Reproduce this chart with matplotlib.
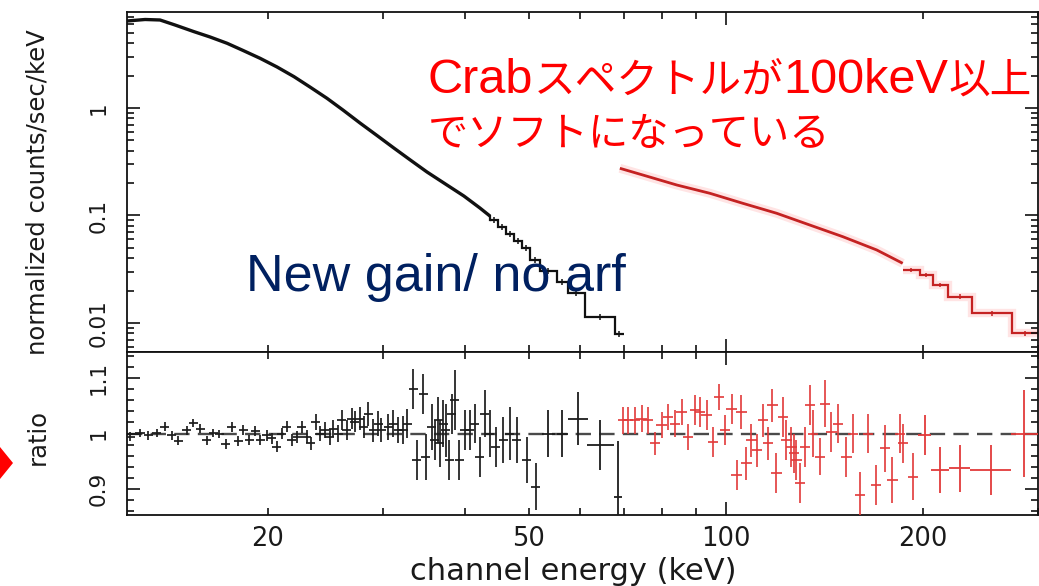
import numpy as np
import matplotlib
matplotlib.use("Agg")
import matplotlib.pyplot as plt
from matplotlib.ticker import (FixedLocator, FuncFormatter, MultipleLocator,
                               NullFormatter, LogLocator)
from matplotlib.patches import Polygon

# ---------------- spectrum (normalized counts/sec/keV) ----------------
# PIN: fine bins, drawn as a continuous curve
pin_curve_E = [12.18, 12.98, 13.68, 14.42, 15.42, 16.31, 17.32, 18.32, 19.45,
               20.64, 21.92, 23.18, 24.61, 26.03, 27.64, 29.34, 31.14, 32.95,
               34.98, 37.53, 39.83, 42.14, 43.65]
pin_curve_F = [6.45, 6.66, 6.59, 5.92, 5.13, 4.58, 4.00, 3.43, 2.90,
               2.41, 1.955, 1.568, 1.231, 0.958, 0.725, 0.555, 0.424, 0.330,
               0.2540, 0.1921, 0.1518, 0.1174, 0.0989]
# PIN: coarse bins at the high-energy end
pin_step_edges = [43.65, 44.89, 46.17, 47.49, 48.85, 50.24, 52.04, 55.24,
                  57.42, 60.95, 67.73, 69.91]
pin_step_F = [0.0908, 0.0781, 0.0673, 0.0579, 0.0498, 0.0386, 0.0305,
              0.02406, 0.0190, 0.01137, 0.0079]

# GSO
gso_curve_E = [68.94, 74.74, 84.23, 94.6, 106.2, 119.7, 134.4, 151.0, 170.1, 186.4]
gso_curve_F = [0.2749, 0.2380, 0.1921, 0.1609, 0.1299, 0.1048, 0.0816,
               0.0635, 0.0478, 0.0359]
gso_step_edges = [186.4, 197.9, 207.2, 218.4, 237.6, 273.5, 300.0]
gso_step_F = [0.0311, 0.0280, 0.02257, 0.01757, 0.01231, 0.00802]

# ---------------- data / model ratio ----------------
pin_ratio_E = [12.31, 12.75, 13.13, 13.52, 13.92, 14.26, 14.59, 15.03, 15.38,
               15.75, 16.12, 16.50, 16.85, 17.24, 17.60, 18.02, 18.34, 18.73,
               19.11, 19.45, 19.91, 20.26, 20.62, 20.99, 21.36, 21.74, 22.17,
               22.52, 22.91, 23.24, 23.65, 24.01, 24.43, 24.87, 25.16, 25.60,
               25.91, 26.37, 26.83, 27.15, 27.63, 28.02, 28.44, 28.95, 29.46,
               29.81, 30.52, 31.06, 31.61, 32.17, 32.62,
               33.33, 33.73, 34.52, 34.85, 35.56, 35.98, 36.40, 36.61, 37.04,
               37.39, 37.83, 38.15, 38.60, 39.18, 39.97, 40.68, 41.41, 42.14,
               42.89, 43.65, 44.58, 45.74, 46.83, 47.94, 49.66, 51.31]
pin_ratio = [0.994, 1.001, 0.997, 1.001, 1.012, 0.997, 0.987, 1.006, 1.019,
             1.009, 0.988, 1.001, 0.999, 0.981, 1.011, 0.987, 1.006, 0.988,
             1.005, 0.988, 0.997, 0.991, 0.976, 1.000, 1.012, 0.988, 0.994,
             1.012, 0.994, 0.982, 1.021, 1.000, 1.006, 0.994, 1.009, 1.000,
             1.024, 1.006, 1.027, 1.021, 1.027, 1.012, 1.035, 1.006, 1.018,
             1.006, 1.012, 1.018, 1.006, 1.006, 1.018,
             1.081, 0.952, 1.072, 0.958, 1.012, 0.988, 1.024, 0.982, 1.018,
             1.006, 0.952, 1.036, 1.060, 0.952, 1.006, 1.006, 1.018, 0.958,
             1.036, 1.000, 0.976, 0.988, 1.000, 0.988, 0.952, 0.904]
pin_ratio_err = [0.008, 0.008, 0.008, 0.008, 0.008, 0.008, 0.008, 0.008, 0.008,
                 0.008, 0.008, 0.008, 0.008, 0.009, 0.009, 0.009, 0.009, 0.009,
                 0.009, 0.009, 0.010, 0.010, 0.010, 0.010, 0.010, 0.011, 0.011,
                 0.011, 0.012, 0.012, 0.014, 0.014, 0.015, 0.015, 0.016, 0.016,
                 0.018, 0.018, 0.019, 0.019, 0.020, 0.020, 0.021, 0.021, 0.022,
                 0.022, 0.023, 0.024, 0.024, 0.025, 0.026,
                 0.036, 0.036, 0.036, 0.042, 0.042, 0.036, 0.042, 0.042, 0.042,
                 0.048, 0.036, 0.036, 0.054, 0.036, 0.036, 0.036, 0.036, 0.036,
                 0.042, 0.042, 0.036, 0.042, 0.048, 0.042, 0.042, 0.042]
pin_wide_lo = [52.34, 55.19, 57.49, 61.34, 67.47]
pin_wide_hi = [54.86, 57.49, 61.69, 67.47, 69.40]
pin_wide_ratio = [1.000, 1.000, 1.027, 0.979, 0.886]
pin_wide_err = [0.042, 0.042, 0.048, 0.045, 0.100]

gso_ratio_E = [69.74, 70.98, 72.67, 74.40, 76.15, 77.96, 79.82, 81.69, 83.64,
               85.63, 87.64, 89.73, 91.32, 93.50, 95.69, 97.73, 99.71, 102.09,
               103.90, 105.74, 107.61, 109.52, 111.70, 114.09, 116.11, 117.91,
               119.59, 122.39, 123.86, 126.06, 127.08, 128.29, 129.79, 132.10,
               134.43, 136.01, 139.24, 141.72, 145.09, 148.49, 152.95, 156.54,
               160.26, 165.01, 169.95, 174.99, 179.80, 184.46, 186.61, 193.30]
gso_ratio = [1.024, 1.024, 1.024, 1.027, 1.024, 0.982, 1.015, 1.030, 1.018,
             1.039, 0.994, 1.042, 1.039, 1.033, 0.985, 1.066, 1.006, 1.045,
             0.925, 1.039, 0.946, 0.988, 0.970, 1.024, 0.982, 1.051,
             0.928, 1.030, 0.988, 0.976, 0.964, 0.952, 0.910, 0.976,
             1.051, 1.000, 0.958, 1.054, 1.003, 1.018, 0.958, 1.000,
             0.889, 1.000, 0.907, 0.973, 0.916, 1.000, 0.982, 0.922]
gso_ratio_err = [0.024, 0.024, 0.024, 0.024, 0.024, 0.021, 0.024, 0.024, 0.024,
                 0.024, 0.024, 0.027, 0.027, 0.027, 0.027, 0.024, 0.027, 0.027,
                 0.027, 0.030, 0.030, 0.030, 0.030, 0.030, 0.030, 0.030,
                 0.036, 0.036, 0.036, 0.036, 0.036, 0.036, 0.036, 0.036,
                 0.036, 0.042, 0.033, 0.042, 0.036, 0.036, 0.036, 0.036,
                 0.042, 0.036, 0.036, 0.042, 0.042, 0.036, 0.036, 0.042]
gso_wide_lo = [196.6, 206.2, 219.2, 236.4, 272.6]
gso_wide_hi = [206.2, 219.2, 236.4, 272.6, 300.0]
gso_wide_ratio = [0.997, 0.934, 0.937, 0.934, 1.000]
gso_wide_err = [0.036, 0.042, 0.042, 0.045, 0.078]

# ---------------- axis ticks and labels ----------------
x_major = [100]
x_minor = [20, 30, 40, 50, 60, 70, 80, 90, 200, 300]
x_labels = {20: "20", 50: "50", 100: "100", 200: "200"}

title_red_1 = [("Crab", "latin"), ("スペクトルが", "cjk"), ("100keV", "latin"), ("以上", "cjk")]
title_red_2 = "でソフトになっている"
note_blue = "New gain/ no arf"

# ---------------- figure ----------------
W, H = 1039, 586
fig = plt.figure(figsize=(W / 100, H / 100), dpi=100)
fig.patch.set_facecolor("white")


def fx(px):
    return px / W


def fy(py):
    return 1 - py / H


L, R = 127, 1038
ax1 = fig.add_axes([fx(L), fy(352), (R - L) / W, 340 / H])
ax2 = fig.add_axes([fx(L), fy(515), (R - L) / W, 163 / H], sharex=ax1)

BLACK = "#111111"
RED_LINE = "#c42222"
RED_PTS = "#e23a3a"

# --- top panel: spectrum ---
ax1.set_xscale("log")
ax1.set_yscale("log")
ax1.plot(pin_curve_E, pin_curve_F, color=BLACK, lw=2.4, solid_capstyle="butt",
         solid_joinstyle="round")
ax1.plot([pin_curve_E[-1], pin_step_edges[0]], [pin_curve_F[-1], pin_step_F[0]],
         color=BLACK, lw=1.6)
ax1.stairs(pin_step_F, pin_step_edges, baseline=None, color=BLACK, lw=1.6)
pe = np.array(pin_step_edges)
pc = np.sqrt(pe[:-1] * pe[1:])
pf = np.array(pin_step_F)
ax1.errorbar(pc, pf, yerr=0.06 * pf, fmt="none", ecolor=BLACK, elinewidth=1.1)

# soft red glow beneath the GSO curve
ax1.plot(gso_curve_E, gso_curve_F, color="#ff6a6a", lw=6.5, alpha=0.18,
         solid_capstyle="butt")
ax1.stairs(gso_step_F, gso_step_edges, baseline=None, color="#ff6a6a",
           lw=6.0, alpha=0.18)
ax1.plot(gso_curve_E, gso_curve_F, color=RED_LINE, lw=2.0, solid_capstyle="butt",
         solid_joinstyle="round")
ax1.stairs(gso_step_F, gso_step_edges, baseline=None, color=RED_LINE, lw=1.6)
ge = np.array(gso_step_edges)
gc = np.sqrt(ge[:-1] * ge[1:])
gf = np.array(gso_step_F)
ax1.errorbar(gc, gf, yerr=0.05 * gf, fmt="none", ecolor=RED_LINE, elinewidth=1.1)

ax1.set_xlim(12.18, 300)
ax1.set_ylim(0.00537, 7.82)
ax1.yaxis.set_major_locator(LogLocator(base=10))
ax1.yaxis.set_minor_locator(LogLocator(base=10, subs=np.arange(2, 10)))
ax1.yaxis.set_major_formatter(FuncFormatter(lambda v, p: f"{v:g}"))
ax1.yaxis.set_minor_formatter(NullFormatter())

# --- bottom panel: ratio ---
ax2.axhline(1.0, color="#4a4a4a", lw=1.7, ls=(0, (6.5, 3.5)), zorder=1)

E = np.array(pin_ratio_E)
ax2.errorbar(E, pin_ratio, yerr=pin_ratio_err, xerr=[E - E / 1.016, E * 1.016 - E],
             fmt="none", ecolor="#1c1c1c", elinewidth=1.25, zorder=3)
lo, hi = np.array(pin_wide_lo), np.array(pin_wide_hi)
mid = np.sqrt(lo * hi)
ax2.errorbar(mid, pin_wide_ratio, yerr=pin_wide_err, xerr=[mid - lo, hi - mid],
             fmt="none", ecolor="#1c1c1c", elinewidth=1.3, zorder=3)

E = np.array(gso_ratio_E)
ax2.errorbar(E, gso_ratio, yerr=gso_ratio_err, xerr=[E - E / 1.018, E * 1.018 - E],
             fmt="none", ecolor=RED_PTS, elinewidth=1.2, zorder=3)
lo, hi = np.array(gso_wide_lo), np.array(gso_wide_hi)
mid = np.sqrt(lo * hi)
ax2.errorbar(mid, gso_wide_ratio, yerr=gso_wide_err, xerr=[mid - lo, hi - mid],
             fmt="none", ecolor=RED_PTS, elinewidth=1.3, zorder=3)

ax2.set_ylim(0.853, 1.147)
ax2.yaxis.set_major_locator(MultipleLocator(0.1))
ax2.yaxis.set_minor_locator(MultipleLocator(0.02))
ax2.yaxis.set_major_formatter(FuncFormatter(lambda v, p: f"{v:g}"))

# --- shared tick styling ---
xfmt = FuncFormatter(lambda v, p: x_labels.get(int(round(v)), ""))
for ax in (ax1, ax2):
    ax.xaxis.set_major_locator(FixedLocator(x_major))
    ax.xaxis.set_minor_locator(FixedLocator(x_minor))
    ax.tick_params(which="both", direction="in", top=True, right=True,
                   width=1.2, color=BLACK)
    ax.tick_params(which="major", length=9.5)
    ax.tick_params(which="minor", length=5)
    ax.tick_params(axis="y", labelrotation=90, labelsize=15.5, pad=13,
                   labelcolor="#1a1a1a")
    for s in ax.spines.values():
        s.set_linewidth(1.3)
        s.set_color(BLACK)
ax2.xaxis.set_major_formatter(xfmt)
ax2.xaxis.set_minor_formatter(xfmt)
ax2.tick_params(axis="x", which="both", labelsize=18.5, pad=8, labelcolor="#1a1a1a")
ax1.tick_params(axis="x", which="both", labelbottom=False)

fig.canvas.draw()
for ax in (ax1, ax2):
    plt.setp(ax.get_yticklabels(), va="center")

# --- axis titles ---
fig.text(fx(38), fy(192), "normalized counts/sec/keV", rotation=90,
         ha="center", va="center", fontsize=17.5, color="#1a1a1a")
fig.text(fx(38), fy(437), "ratio", rotation=90, ha="center", va="center",
         fontsize=17.5, color="#1a1a1a")
fig.text(fx(573), fy(572), "channel energy (keV)", ha="center", va="center",
         fontsize=22, color="#1a1a1a")

# --- annotations ---
renderer = fig.canvas.get_renderer()
fam = {"latin": (["Liberation Sans", "DejaVu Sans"], 35),
       "cjk": (["Noto Sans CJK JP", "DejaVu Sans"], 30)}
x = 428
for s, kind in title_red_1:
    family, size = fam[kind]
    t = fig.text(fx(x), fy(93), s, family=family, fontsize=size,
                 color="#ff0000", ha="left", va="baseline")
    x = t.get_window_extent(renderer).x1
fig.text(fx(428), fy(146), title_red_2, family=["Noto Sans CJK JP", "DejaVu Sans"],
         fontsize=29, color="#ff0000", ha="left", va="baseline")

fig.text(fx(246), fy(291), note_blue, family=["Liberation Sans", "DejaVu Sans"],
         fontsize=37.5, color="#002060", ha="left", va="baseline")

# red bullet marker at the left margin
fig.patches.append(Polygon([(fx(0), fy(447)), (fx(13), fy(463)), (fx(0), fy(479))],
                           closed=True, transform=fig.transFigure,
                           facecolor="#ff0000", edgecolor="none"))

fig.savefig("out.png", dpi=100, facecolor="white")
